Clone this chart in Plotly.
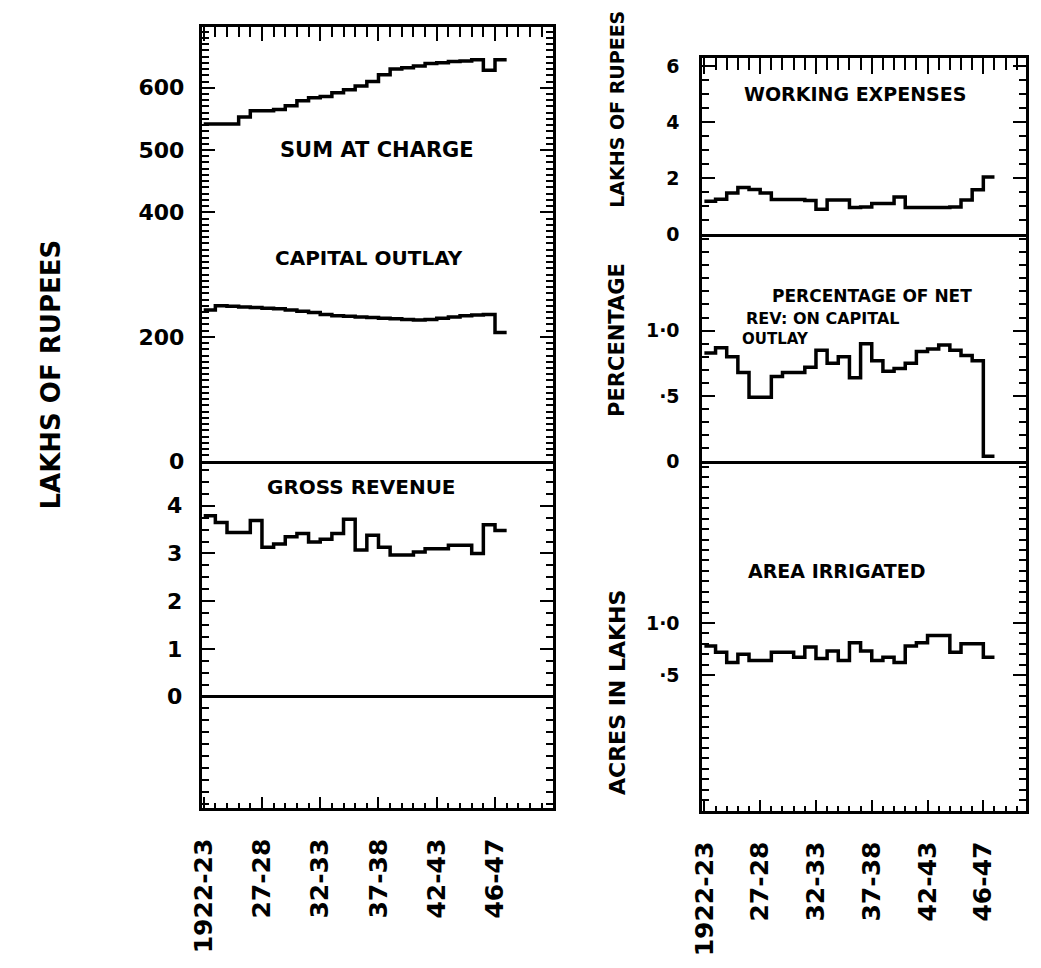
import plotly.graph_objects as go

# ---------------- data (lakhs of rupees / percent / lakh acres) ----------------
years = list(range(1922, 1948))  # 1922-23 ... 1947-48

sum_at_charge = [542, 542, 542, 553, 563, 563, 565, 571, 579, 584, 586, 592, 597,
                 603, 610, 621, 630, 632, 635, 639, 640, 642, 643, 645, 628, 645]
capital_outlay = [243, 250, 249, 248, 247, 246, 245, 243, 241, 239, 236, 234, 233,
                  232, 231, 230, 229, 228, 227, 228, 230, 232, 234, 235, 236, 207]
gross_revenue = [3.79, 3.65, 3.44, 3.44, 3.69, 3.13, 3.20, 3.35, 3.42, 3.24, 3.30, 3.42, 3.72,
                 3.07, 3.38, 3.13, 2.97, 2.97, 3.03, 3.10, 3.10, 3.17, 3.17, 3.00, 3.60, 3.48]
working_expenses = [1.18, 1.25, 1.47, 1.67, 1.60, 1.47, 1.24, 1.24, 1.24, 1.20, 0.89, 1.22, 1.22,
                    0.95, 0.97, 1.10, 1.10, 1.33, 0.95, 0.95, 0.95, 0.95, 0.97, 1.22, 1.59, 2.04]
pct_net_revenue = [0.83, 0.87, 0.80, 0.68, 0.49, 0.49, 0.65, 0.68, 0.68, 0.72, 0.85, 0.75, 0.80,
                   0.64, 0.90, 0.77, 0.69, 0.71, 0.75, 0.84, 0.86, 0.89, 0.85, 0.81, 0.77, 0.04]
area_irrigated = [0.78, 0.72, 0.62, 0.70, 0.64, 0.64, 0.72, 0.72, 0.67, 0.77, 0.66, 0.73, 0.64,
                  0.81, 0.73, 0.64, 0.67, 0.62, 0.78, 0.81, 0.88, 0.88, 0.72, 0.80, 0.80, 0.67]

x_tick_vals = [1922, 1927, 1932, 1937, 1942, 1947]
x_tick_text = ["1922-23", "27-28", "32-33", "37-38", "42-43", "46-47"]

left_top_ticks = [0, 200, 400, 500, 600]
left_top_text = ["0", "200", "400", "500", "600"]
gross_ticks = [0, 1, 2, 3, 4]
gross_text = ["0", "1", "2", "3", "4"]
we_ticks = [0, 2, 4, 6]
we_text = ["0", "2", "4", "6"]
pct_ticks = [0, 0.5, 1.0]
pct_text = ["0", "·5", "1·0"]
area_ticks = [0.5, 1.0]
area_text = ["·5", "1·0"]

W, H = 1041, 968
FONT = "DejaVu Sans"


def px(x):
    return x / W


def py(y):
    return 1 - y / H


def steps(vals):
    return years + [years[-1] + 1], vals + [vals[-1]]


fig = go.Figure()

series = [
    (sum_at_charge, "x", "y", "Sum at charge"),
    (capital_outlay, "x", "y", "Capital outlay"),
    (gross_revenue, "x2", "y2", "Gross revenue"),
    (working_expenses, "x3", "y3", "Working expenses"),
    (pct_net_revenue, "x4", "y4", "Percentage of net rev. on capital outlay"),
    (area_irrigated, "x5", "y5", "Area irrigated"),
]
for vals, xa, ya, name in series:
    xs, ys = steps(vals)
    fig.add_trace(go.Scatter(x=xs, y=ys, xaxis=xa, yaxis=ya, name=name, mode="lines",
                             line=dict(color="black", width=3.5, shape="hv"),
                             showlegend=False, hoverinfo="skip"))

LX = [1921.83, 1952.0]
RX = [1921.82, 1950.85]
LDOM = [px(183), px(539)]
RDOM = [px(690), px(1018)]


def xax(dom, rng, anchor, side, ticks, labels, mirror, toplen=13):
    d = dict(domain=dom, range=rng, anchor=anchor, side=side, showgrid=False, zeroline=False,
             showline=True, linecolor="black", linewidth=3, mirror=mirror, fixedrange=True)
    if ticks:
        d.update(tickmode="array", tickvals=x_tick_vals, ticktext=x_tick_text if labels else None,
                 ticks="inside", ticklen=toplen if side == "top" else 11, tickwidth=2,
                 tickcolor="black", showticklabels=labels,
                 minor=dict(tickmode="linear", tick0=1922, dtick=1, ticks="inside",
                            ticklen=(toplen - 4) if side == "top" else 5,
                            tickwidth=2, tickcolor="black", showgrid=False))
        if labels:
            d.update(tickangle=-90, ticklabelstandoff=18,
                     tickfont=dict(family=FONT, size=25, color="black", weight="bold"))
    else:
        d.update(ticks="", showticklabels=False)
    return d


def yax(dom, rng, anchor, tv, tt, minor_dtick, size, standoff, zeroline=False):
    return dict(domain=dom, range=rng, anchor=anchor, showgrid=False, zeroline=zeroline,
                zerolinecolor="black", zerolinewidth=3,
                showline=True, linecolor="black", linewidth=3, mirror="allticks",
                tickmode="array", tickvals=tv, ticktext=tt, ticks="inside", ticklen=13,
                tickwidth=2, tickcolor="black", ticklabelstandoff=standoff,
                tickfont=dict(family=FONT, size=size, color="black", weight="bold"),
                minor=dict(tickmode="linear", tick0=0, dtick=minor_dtick, ticks="inside",
                           ticklen=7, tickwidth=2, tickcolor="black", showgrid=False),
                fixedrange=True)


fig.update_layout(
    width=W, height=H, margin=dict(l=0, r=0, t=0, b=0),
    paper_bgcolor="white", plot_bgcolor="white",
    xaxis=xax(LDOM, LX, "y", "top", True, False, True, 14),
    xaxis2=xax(LDOM, LX, "y2", "bottom", True, True, False),
    xaxis3=xax(RDOM, RX, "y3", "top", True, False, True, 16),
    xaxis4=xax(RDOM, RX, "y4", "bottom", False, False, False),
    xaxis5=xax(RDOM, RX, "y5", "bottom", True, True, False),
    yaxis=yax([py(458), py(16)], [0, 698], "x", left_top_ticks, left_top_text, 10, 22, 10),
    yaxis2=yax([py(810), py(458)], [-2.33, 4.93], "x2", gross_ticks, gross_text, 0.25, 22, 12,
               zeroline=True),
    yaxis3=yax([py(227), py(48)], [0, 6.28], "x3", we_ticks, we_text, 0.5, 19, 16),
    yaxis4=yax([py(458), py(227)], [0, 1.737], "x4", pct_ticks, pct_text, 0.1, 19, 16),
    yaxis5=yax([py(813), py(458)], [-0.80, 2.55], "x5", area_ticks, area_text, 0.1, 19, 16),
)

annotations = [
    ("LAKHS OF RUPEES", 30, 370, -90, 26),
    ("LAKHS OF RUPEES", 604, 100, -90, 19),
    ("PERCENTAGE", 604, 334, -90, 21),
    ("ACRES IN LAKHS", 604, 693, -90, 22),
    ("SUM AT CHARGE", 360, 141, 0, 21),
    ("CAPITAL OUTLAY", 352, 251, 0, 20),
    ("GROSS REVENUE", 345, 484, 0, 20),
    ("WORKING EXPENSES", 845, 84, 0, 19),
    ("PERCENTAGE OF NET", 862, 290, 0, 17),
    ("REV: ON CAPITAL", 812, 313, 0, 16),
    ("OUTLAY", 764, 334, 0, 15),
    ("AREA IRRIGATED", 826, 569, 0, 19),
]
for text, x, y, ang, size in annotations:
    fig.add_annotation(text=text, x=px(x), y=py(y), xref="paper", yref="paper",
                       showarrow=False, textangle=ang, xanchor="center", yanchor="middle",
                       font=dict(family=FONT, size=size, color="black", weight="bold"))

fig.write_html("out.html")
